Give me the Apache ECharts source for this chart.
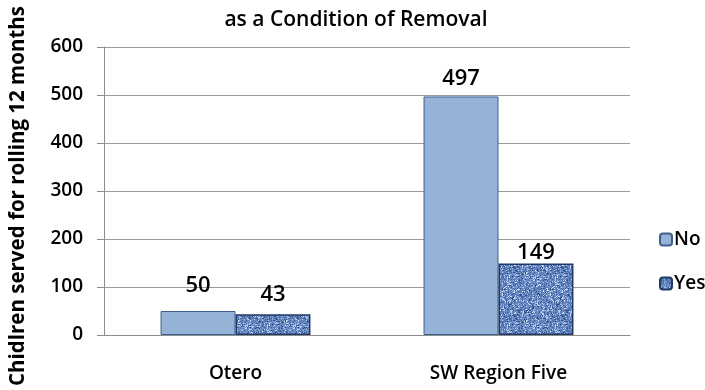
<!DOCTYPE html>
<html>
<head>
<meta charset="utf-8">
<script src="https://cdn.jsdelivr.net/npm/echarts@6/dist/echarts.min.js"></script>
<style>
  html, body { margin: 0; padding: 0; background: #fff; }
  #chart { width: 705px; height: 390px; }
</style>
</head>
<body>
<div id="chart"></div>
<script>
const categories = ['Otero', 'SW Region Five'];
const seriesNames = ['No', 'Yes'];
const noValues = [50, 497];
const yesValues = [43, 149];
const yTicks = [0, 100, 200, 300, 400, 500, 600];

const FONT = '"Open Sans", "Noto Sans", sans-serif';

// Gap between each bar top and its value label (No, Yes) per category
const noLabelGap = [14, 7];
const yesLabelGap = [9, 0];

// Woven blue texture for the "Yes" bars, built from a deterministic hash
function makeTexture() {
  const size = 48;
  const c = document.createElement('canvas');
  c.width = size; c.height = size;
  const ctx = c.getContext('2d');
  ctx.fillStyle = '#6688c2';
  ctx.fillRect(0, 0, size, size);
  const palette = ['#2f4f86', '#4a6aa6', '#8eaadb', '#b3c8ec', '#5a7bb8', '#d3def3', '#3c5d98'];
  for (let y = 0; y < size; y++) {
    for (let x = 0; x < size; x++) {
      let h = (x * 374761393 + y * 668265263) >>> 0;
      h = ((h ^ (h >>> 13)) * 1274126177) >>> 0;
      const v = h % 100;
      if (v < 55) {
        ctx.fillStyle = palette[(h >>> 7) % palette.length];
        ctx.fillRect(x, y, 1, 1);
      }
    }
  }
  return c;
}

const chart = echarts.init(document.getElementById('chart'), null, { renderer: 'canvas' });
const texture = makeTexture();

const valueLabel = { show: true, position: 'top', fontFamily: FONT, fontSize: 22, fontWeight: 600, color: '#000' };

chart.setOption({
  animation: false,
  title: {
    text: 'as a Condition of Removal',
    left: 351, top: 5, textAlign: 'center',
    textStyle: { fontFamily: FONT, fontSize: 21, fontWeight: 600, color: '#000' }
  },
  legend: {
    orient: 'vertical',
    left: 654, top: 225,
    itemGap: 25,
    itemWidth: 12, itemHeight: 12,
    textStyle: { fontFamily: FONT, fontSize: 19, fontWeight: 600, color: '#000', padding: [0, 0, 0, -3] },
    data: seriesNames
  },
  grid: { left: 99, right: 75, top: 47, bottom: 55 },
  xAxis: {
    type: 'category',
    data: categories,
    axisLine: { lineStyle: { color: '#8c8c8c' } },
    axisTick: { show: false },
    axisLabel: { fontFamily: FONT, fontSize: 19, fontWeight: 600, color: '#000', margin: 29 }
  },
  yAxis: {
    type: 'value',
    min: yTicks[0], max: yTicks[yTicks.length - 1], interval: 100,
    name: 'Chidlren served for rolling 12 months',
    nameLocation: 'middle',
    nameGap: 75,
    nameTextStyle: { fontFamily: FONT, fontSize: 20.5, fontWeight: 'bold', color: '#000', padding: [0, 10, 0, 0] },
    axisLine: { show: true, lineStyle: { color: '#8c8c8c' } },
    axisTick: { show: true, length: 7, lineStyle: { color: '#8c8c8c' } },
    axisLabel: { fontFamily: FONT, fontSize: 19, fontWeight: 600, color: '#000', margin: 21 },
    splitLine: { lineStyle: { color: '#9a9a9a' } }
  },
  series: [
    {
      name: seriesNames[0],
      type: 'bar',
      data: noValues.map((v, i) => ({ value: v, label: { distance: noLabelGap[i] } })),
      barGap: '0%',
      barCategoryGap: '43%',
      itemStyle: { color: '#95b3d7', borderColor: '#3f5f8c', borderWidth: 1 },
      label: valueLabel
    },
    {
      name: seriesNames[1],
      type: 'bar',
      data: yesValues.map((v, i) => ({ value: v, label: { distance: yesLabelGap[i] } })),
      itemStyle: {
        color: { image: texture, repeat: 'repeat' },
        borderColor: '#1f3a66', borderWidth: 1.5
      },
      label: valueLabel
    }
  ]
});
</script>
</body>
</html>
